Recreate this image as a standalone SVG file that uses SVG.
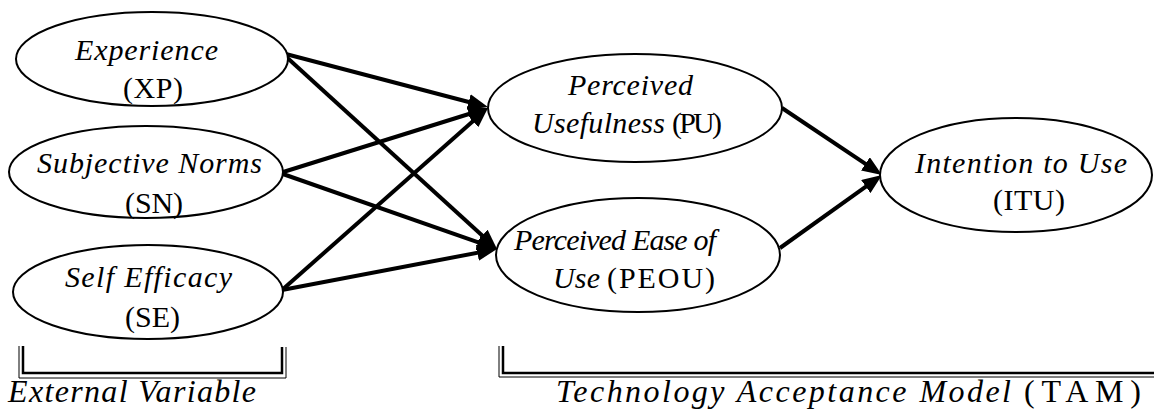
<svg xmlns="http://www.w3.org/2000/svg" width="1154" height="414" viewBox="0 0 1154 414" font-family="Liberation Serif, Times New Roman, serif" font-size="30">
<style>
.n{fill:#fff;stroke:#000;stroke-width:2}
.t{fill:#000}
.i{font-style:italic}
.c{stroke:#000;stroke-width:4;fill:none;marker-end:url(#ah)}
.b1{stroke:#000;stroke-width:1;fill:none}
.b2{stroke:#000;stroke-width:2.5;fill:none}
</style>
<defs>
<marker id="ah" markerUnits="userSpaceOnUse" markerWidth="20" markerHeight="16" viewBox="0 0 20 16" refX="10" refY="8" orient="auto">
<path d="M0,0 L20,8 L0,16 z" fill="#000"/>
</marker>
</defs>
<rect width="1154" height="414" fill="#fff"/>
<g id="connectors">
<line class="c" x1="282" y1="53" x2="478.3" y2="104.5"/>
<line class="c" x1="282" y1="53" x2="489.6" y2="242.3"/>
<line class="c" x1="280" y1="173" x2="478.5" y2="111"/>
<line class="c" x1="280" y1="173" x2="487.6" y2="245.7"/>
<line class="c" x1="282" y1="290" x2="480.5" y2="114.6"/>
<line class="c" x1="282" y1="290" x2="487.2" y2="250.9"/>
<line class="c" x1="782" y1="108" x2="873.7" y2="169.4"/>
<line class="c" x1="780" y1="248" x2="873.9" y2="180.8"/>
</g>
<g id="XP">
<ellipse class="n" cx="152" cy="59" rx="136" ry="47"/>
<text class="t i" x="75" y="60" textLength="143" lengthAdjust="spacing">Experience</text>
<text class="t" x="123" y="98" textLength="60" lengthAdjust="spacing">(XP)</text>
</g>
<g id="SN">
<ellipse class="n" cx="146" cy="172" rx="137" ry="46"/>
<text class="t i" x="37" y="173" textLength="225" lengthAdjust="spacing">Subjective Norms</text>
<text class="t" x="125" y="213" textLength="58" lengthAdjust="spacing">(SN)</text>
</g>
<g id="SE">
<ellipse class="n" cx="148" cy="292" rx="135" ry="47"/>
<text class="t i" x="65" y="287" textLength="167" lengthAdjust="spacing">Self Efficacy</text>
<text class="t" x="125" y="327" textLength="55" lengthAdjust="spacing">(SE)</text>
</g>
<g id="PU">
<ellipse class="n" cx="635" cy="108" rx="147" ry="54"/>
<text class="t i" x="568" y="95" textLength="125" lengthAdjust="spacing">Perceived</text>
<text class="t i" x="532" y="133" textLength="133" lengthAdjust="spacing">Usefulness</text>
<text class="t" x="672" y="133" textLength="50" lengthAdjust="spacing">(PU)</text>
</g>
<g id="PEOU">
<ellipse class="n" cx="638" cy="255" rx="142" ry="57"/>
<text class="t i" x="514" y="250" textLength="202" lengthAdjust="spacing">Perceived Ease of</text>
<text class="t i" x="553" y="288" textLength="47" lengthAdjust="spacing">Use</text>
<text class="t" x="607" y="288" textLength="108" lengthAdjust="spacing">(PEOU)</text>
</g>
<g id="ITU">
<ellipse class="n" cx="1016" cy="175" rx="136" ry="57"/>
<text class="t i" x="915" y="173" textLength="212" lengthAdjust="spacing">Intention to Use</text>
<text class="t" x="993" y="210" textLength="72" lengthAdjust="spacing">(ITU)</text>
</g>
<g id="external-bracket">
<path class="b1" d="M19,346 V378 H286 V347"/>
<path class="b2" d="M23,346 V373 H282 V347"/>
<text class="t i" x="8" y="402" font-size="32" textLength="248" lengthAdjust="spacing">External Variable</text>
</g>
<g id="tam-bracket">
<path class="b1" d="M499,346 V377 H1154"/>
<path class="b2" d="M503,346 V373 H1154"/>
<text class="t i" x="556" y="402" font-size="32" textLength="455" lengthAdjust="spacing">Technology Acceptance Model</text>
<text class="t" x="1024" y="402" font-size="32" textLength="117" lengthAdjust="spacing">(TAM)</text>
</g>
</svg>
